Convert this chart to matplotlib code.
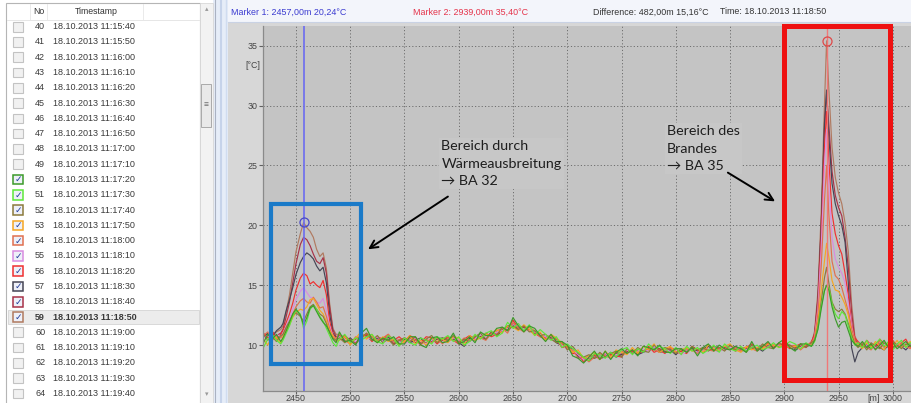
import numpy as np
import matplotlib
matplotlib.use("Agg")
import matplotlib.pyplot as plt
from matplotlib.patches import Rectangle
from matplotlib.lines import Line2D
from matplotlib import transforms

plt.rcParams['font.family'] = ['Liberation Sans', 'DejaVu Sans']

# ---------------- data ----------------
dist = np.concatenate([
    [2420, 2424, 2428, 2432, 2436],
    [2438, 2441, 2444, 2447, 2450, 2454, 2457, 2460, 2463, 2466, 2469, 2472, 2475, 2478, 2481, 2484, 2487],
    np.arange(2490, 2926, 5),
    [2928, 2931, 2934, 2937, 2939, 2941, 2944, 2947, 2950, 2953, 2956, 2959, 2962, 2965],
    np.arange(2968, 3021, 4),
])

t50 = [10.2, 10.9, 10.5, 10.9, 10.3,
       10.6, 11.2, 11.9, 12.6, 13.0, 12.5, 11.7, 12.3, 13.1, 13.3, 12.8, 12.3, 11.9, 11.6, 11.1, 10.5, 10.2,
       11.1, 10.3, 10.4, 10.0, 11.0, 11.4, 10.5, 10.2, 10.6, 10.4,
       10.7, 10.1, 10.1, 10.7, 10.7, 10.0, 9.8, 10.6, 10.7, 10.2,
       10.3, 11.0, 10.1, 10.3, 10.7, 10.2, 11.1, 10.8, 10.8, 11.4,
       11.5, 11.2, 12.3, 11.6, 11.1, 11.6, 11.4, 10.8, 10.3, 10.9,
       10.3, 10.3, 10.0, 9.1, 8.9, 8.5, 9.0, 9.5, 8.8, 9.5,
       8.8, 9.4, 9.7, 9.3, 9.6, 9.1, 9.9, 9.8, 9.6, 10.0,
       9.4, 9.4, 9.7, 9.7, 9.4, 9.8, 9.1, 9.8, 10.1, 9.5,
       10.0, 9.7, 9.6, 9.9, 9.7, 9.4, 10.3, 9.5, 9.9, 10.3,
       9.7, 10.2, 10.5, 9.8, 9.5, 10.1, 10.1, 9.9,
       10.4, 11.3, 13.0, 14.5, 15.0, 14.6, 13.2, 12.2, 11.5, 11.9, 12.0, 11.2, 10.4, 10.1,
       9.9, 10.3, 9.8, 10.1, 9.6, 10.0, 10.4, 9.8, 10.2, 9.7, 10.0, 10.3, 9.9, 10.1]

t51 = [9.8, 10.5, 10.9, 10.4, 10.1,
       10.4, 11.0, 11.6, 12.4, 12.9, 12.6, 11.4, 12.0, 13.0, 13.3, 13.0, 12.4, 12.0, 11.4, 10.8, 10.2, 9.9,
       10.5, 10.9, 10.2, 10.6, 10.4, 10.7, 10.9, 10.3, 10.1, 10.8,
       10.5, 9.9, 10.6, 10.2, 10.0, 10.6, 10.4, 10.1, 10.7, 10.5,
       10.8, 10.3, 10.7, 10.0, 10.3, 10.9, 10.5, 11.0, 11.2, 10.7,
       11.0, 11.9, 11.4, 11.8, 11.2, 11.7, 10.8, 11.3, 10.9, 10.4,
       10.7, 9.8, 10.1, 9.7, 9.4, 9.0, 8.7, 9.3, 9.2, 8.9,
       9.4, 9.0, 9.6, 9.8, 9.2, 9.7, 9.4, 10.1, 9.6, 9.9,
       9.7, 9.3, 9.8, 9.2, 9.9, 9.5, 9.8, 9.3, 9.6, 10.0,
       9.4, 10.1, 9.7, 9.5, 9.9, 9.5, 9.8, 10.0, 9.6, 9.8,
       10.2, 9.8, 9.9, 10.3, 10.1, 9.7, 10.2, 9.9,
       10.3, 11.4, 13.2, 14.6, 15.0, 14.8, 13.5, 12.6, 12.2, 12.8, 12.5, 11.6, 10.6, 10.0,
       10.2, 9.8, 10.4, 9.7, 10.1, 10.5, 9.9, 10.3, 9.6, 10.1, 10.4, 9.8, 10.2, 9.9]

t52 = [10.9, 10.4, 10.7, 10.3, 10.8,
       10.9, 11.5, 12.0, 12.5, 12.7, 12.4, 12.0, 12.6, 13.2, 13.4, 13.0, 12.6, 12.4, 11.8, 11.0, 10.6, 10.4,
       10.6, 10.2, 10.5, 10.1, 10.6, 11.0, 10.4, 10.8, 10.2, 10.5,
       10.0, 10.4, 10.6, 10.3, 10.7, 10.1, 10.5, 10.8, 10.2, 10.6,
       10.4, 10.8, 10.2, 10.5, 10.3, 10.7, 11.0, 10.5, 11.1, 10.8,
       11.5, 11.2, 11.6, 11.3, 11.6, 11.1, 11.2, 10.8, 10.9, 10.5,
       10.2, 10.3, 9.6, 9.9, 9.3, 9.0, 9.2, 8.9, 9.4, 9.0,
       9.3, 9.5, 9.0, 9.7, 9.3, 9.8, 9.5, 9.4, 10.0, 9.5,
       9.8, 9.6, 9.3, 9.7, 9.4, 9.9, 9.6, 9.8, 9.5, 9.9,
       9.8, 9.5, 10.0, 9.6, 9.8, 9.4, 10.0, 9.6, 10.1, 9.8,
       9.7, 10.2, 9.9, 10.0, 9.7, 10.1, 9.8, 10.2,
       10.4, 11.6, 13.6, 15.6, 16.5, 15.2, 13.6, 13.0, 12.8, 13.0, 12.6, 11.8, 10.9, 10.1,
       9.8, 10.1, 9.6, 10.2, 9.9, 9.7, 10.2, 9.9, 10.3, 10.0, 9.7, 10.1, 10.0, 9.8]

t53 = [10.5, 10.0, 10.8, 10.6, 10.2,
       10.7, 11.2, 11.7, 12.3, 12.7, 13.0, 12.9, 13.2, 13.8, 13.9, 13.4, 12.9, 12.6, 12.0, 11.2, 10.8, 10.3,
       10.4, 10.7, 10.0, 10.6, 11.1, 10.5, 10.9, 10.2, 10.7, 10.3,
       10.5, 10.0, 10.3, 10.8, 10.1, 10.4, 10.0, 10.6, 10.3, 10.5,
       10.2, 10.7, 10.6, 10.0, 10.8, 10.4, 10.6, 10.9, 10.8, 11.3,
       11.0, 11.6, 11.5, 11.2, 11.7, 11.3, 10.8, 11.1, 10.4, 10.9,
       10.6, 10.2, 9.9, 9.4, 9.6, 8.9, 9.1, 9.4, 8.8, 9.5,
       9.0, 9.6, 9.4, 9.2, 9.8, 9.3, 9.9, 9.6, 10.1, 9.4,
       9.7, 9.9, 9.4, 9.6, 9.8, 9.5, 9.7, 9.4, 10.0, 9.7,
       9.5, 9.9, 10.1, 9.6, 9.4, 9.9, 9.6, 9.8, 9.7, 10.1,
       10.0, 9.8, 10.3, 9.8, 9.9, 9.7, 10.1, 10.0,
       10.5, 12.0, 14.5, 17.0, 18.5, 17.4, 15.4, 14.6, 14.5, 14.0, 13.4, 12.5, 11.0, 10.2,
       10.1, 9.7, 10.2, 9.8, 10.3, 9.9, 9.6, 10.2, 9.9, 10.4, 9.8, 10.0, 10.3, 9.9]

t54 = [10.8, 11.1, 10.4, 10.7, 10.6,
       10.9, 11.4, 11.9, 12.6, 13.2, 13.7, 13.9, 13.6, 13.5, 14.0, 13.6, 13.1, 13.2, 12.4, 11.4, 10.7, 10.6,
       10.9, 10.4, 10.1, 10.7, 10.5, 11.0, 10.7, 10.4, 10.6, 10.9,
       10.2, 10.5, 10.2, 10.6, 10.4, 10.0, 10.5, 10.2, 10.6, 10.1,
       10.6, 10.4, 10.2, 10.6, 10.4, 10.8, 10.6, 10.4, 11.0, 11.2,
       11.4, 11.0, 11.9, 11.4, 11.1, 11.5, 11.2, 10.7, 10.5, 10.8,
       10.3, 10.1, 9.7, 9.6, 8.9, 9.0, 8.6, 9.0, 9.3, 9.1,
       8.9, 9.4, 9.5, 9.3, 9.6, 9.4, 9.5, 9.8, 9.6, 9.4,
       9.6, 9.8, 9.4, 9.3, 9.7, 9.6, 9.3, 9.8, 9.6, 9.5,
       9.7, 9.9, 9.6, 9.8, 9.5, 9.8, 9.7, 9.5, 9.9, 9.8,
       10.0, 10.1, 9.7, 9.9, 10.0, 9.6, 10.0, 10.2,
       10.6, 12.6, 16.5, 22.0, 25.0, 21.0, 17.0, 15.8, 15.5, 14.8, 13.8, 12.8, 11.4, 10.4,
       9.9, 10.2, 9.8, 9.6, 10.1, 10.3, 9.8, 10.0, 9.7, 9.9, 10.2, 9.9, 9.7, 10.1]

t55 = [10.6, 10.8, 10.5, 10.9, 10.7,
       11.0, 11.6, 12.2, 13.0, 13.8, 14.5, 14.8, 14.4, 14.0, 13.9, 13.6, 13.5, 13.9, 12.9, 11.6, 10.8, 10.4,
       10.7, 10.5, 10.2, 10.3, 10.9, 10.6, 10.5, 10.7, 10.3, 10.4,
       10.6, 10.3, 10.1, 10.4, 10.6, 10.3, 10.1, 10.4, 10.6, 10.2,
       10.3, 10.6, 10.5, 10.3, 10.4, 10.5, 10.9, 10.6, 10.9, 11.1,
       11.2, 11.4, 11.7, 11.6, 11.3, 11.2, 11.1, 10.9, 10.7, 10.5,
       10.4, 10.0, 9.7, 9.6, 9.2, 8.8, 9.0, 9.0, 9.1, 9.3,
       9.0, 9.2, 9.4, 9.6, 9.3, 9.5, 9.7, 9.5, 9.8, 9.5,
       9.6, 9.5, 9.6, 9.2, 9.5, 9.6, 9.4, 9.5, 9.7, 9.8,
       9.5, 9.7, 9.8, 9.8, 9.5, 9.6, 9.9, 9.8, 9.7, 9.9,
       10.0, 10.0, 10.0, 9.9, 9.7, 9.8, 10.1, 10.0,
       10.7, 13.0, 18.0, 25.0, 28.0, 23.5, 19.0, 17.2, 16.5, 16.0, 15.2, 13.5, 11.6, 10.3,
       10.0, 9.8, 10.0, 10.2, 9.8, 9.9, 10.1, 9.8, 10.0, 10.1, 9.8, 9.9, 10.1, 10.0]

t56 = [11.0, 10.6, 11.2, 10.5, 10.9,
       11.2, 11.9, 12.6, 13.5, 14.6, 15.6, 16.0, 15.8, 15.1, 15.3, 15.0, 14.8, 15.4, 14.2, 12.0, 10.9, 10.5,
       10.6, 10.8, 10.4, 10.2, 10.6, 10.9, 10.3, 10.7, 10.5, 10.9,
       10.4, 10.7, 10.3, 10.8, 10.5, 10.2, 10.7, 10.6, 10.1, 10.5,
       10.7, 10.4, 10.1, 10.5, 10.8, 10.5, 10.6, 11.0, 10.7, 10.9,
       11.2, 11.3, 12.1, 11.4, 11.6, 11.2, 11.0, 10.7, 10.6, 10.5,
       10.5, 9.8, 9.9, 9.3, 9.3, 8.6, 8.9, 9.2, 8.8, 9.3,
       9.2, 9.1, 9.0, 9.6, 9.5, 9.3, 9.5, 9.9, 9.4, 9.6,
       9.3, 9.8, 9.6, 9.5, 9.3, 9.9, 9.6, 9.4, 9.7, 9.6,
       9.8, 9.6, 10.0, 9.5, 9.7, 9.8, 10.1, 9.6, 9.7, 10.2,
       9.8, 10.0, 10.1, 9.7, 9.9, 10.1, 9.8, 10.3,
       10.9, 13.5, 19.0, 26.5, 29.5, 25.5, 21.0, 19.3, 18.3, 17.6, 16.0, 14.2, 11.8, 10.6,
       10.3, 9.9, 10.4, 10.0, 9.7, 10.5, 10.1, 9.8, 10.4, 9.9, 10.2, 10.5, 9.8, 10.2]

t57 = [10.7, 11.0, 10.6, 11.2, 11.5,
       11.8, 12.9, 13.8, 14.8, 15.9, 16.9, 17.4, 17.7, 17.5, 17.2, 16.6, 16.2, 16.5, 15.2, 12.6, 11.0, 10.6,
       10.7, 10.3, 10.6, 10.2, 10.9, 10.7, 10.4, 10.6, 10.3, 10.7,
       10.2, 10.3, 10.5, 10.2, 10.4, 10.6, 10.0, 10.4, 10.5, 10.6,
       10.4, 10.5, 10.2, 9.9, 10.6, 10.4, 10.7, 10.5, 11.1, 10.8,
       11.2, 11.6, 11.7, 11.4, 11.6, 11.3, 10.9, 11.0, 10.5, 10.6,
       10.2, 10.0, 9.9, 9.7, 9.0, 8.8, 8.7, 9.1, 8.9, 9.0,
       9.4, 9.0, 9.2, 9.4, 9.6, 9.2, 9.4, 9.6, 9.8, 9.4,
       9.5, 9.6, 9.2, 9.6, 9.4, 9.7, 9.5, 9.7, 9.9, 9.6,
       9.5, 9.8, 9.7, 9.9, 9.5, 9.6, 9.7, 9.8, 9.5, 9.9,
       10.0, 9.9, 10.1, 9.9, 9.6, 9.8, 9.9, 10.0,
       10.8, 13.8, 19.8, 28.5, 31.3, 27.5, 23.5, 21.8, 20.8, 20.0, 18.6, 15.2, 9.8, 8.6,
       9.4, 9.8, 10.0, 9.7, 10.1, 9.8, 9.6, 10.0, 9.8, 10.1, 9.9, 9.6, 10.0, 9.8]

t58 = [10.9, 10.7, 10.9, 10.8, 11.0,
       11.3, 12.4, 13.6, 15.2, 16.8, 18.4, 19.0, 18.8, 18.3, 17.6, 17.0, 16.8, 17.3, 16.0, 13.2, 11.3, 10.7,
       10.8, 10.6, 10.3, 10.5, 10.7, 10.8, 10.5, 10.4, 10.5, 10.5,
       10.1, 10.3, 10.6, 10.4, 10.2, 10.3, 10.4, 10.3, 10.5, 10.4,
       10.6, 10.6, 10.3, 10.4, 10.6, 10.7, 10.9, 10.5, 11.0, 10.9,
       11.3, 11.5, 11.6, 11.3, 11.5, 11.2, 11.0, 10.9, 10.7, 10.6,
       10.3, 10.1, 9.7, 9.6, 9.1, 8.9, 9.0, 8.9, 9.1, 9.3,
       9.2, 9.3, 9.2, 9.4, 9.5, 9.6, 9.5, 9.7, 9.7, 9.7,
       9.4, 9.6, 9.5, 9.5, 9.5, 9.8, 9.6, 9.5, 9.9, 9.8,
       9.7, 9.7, 9.8, 9.6, 9.7, 9.7, 9.8, 9.8, 9.9, 10.0,
       9.8, 10.1, 10.0, 10.0, 9.8, 9.9, 10.0, 10.1,
       11.0, 14.0, 20.0, 28.0, 31.0, 28.5, 24.5, 22.5, 21.5, 20.8, 19.0, 16.5, 12.8, 10.5,
       10.0, 9.9, 10.1, 9.8, 10.0, 10.1, 9.9, 9.8, 10.1, 10.0, 9.8, 10.0, 10.1, 9.9]

t59 = [10.8, 10.9, 11.0, 11.1, 11.3,
       11.6, 12.8, 14.2, 16.0, 17.8, 19.3, 20.24, 19.8, 19.5, 19.0, 18.0, 17.4, 17.7, 16.4, 13.5, 11.4, 10.9,
       10.9, 10.6, 10.4, 10.5, 10.8, 10.9, 10.7, 10.4, 10.5, 10.7,
       10.4, 10.1, 10.5, 10.6, 10.2, 10.3, 10.2, 10.6, 10.5, 10.2,
       10.4, 10.7, 10.5, 10.2, 10.5, 10.6, 10.7, 10.8, 10.9, 11.1,
       11.2, 11.4, 11.8, 11.6, 11.3, 11.5, 11.1, 10.9, 10.7, 10.8,
       10.5, 10.1, 9.8, 9.5, 9.2, 8.9, 9.0, 9.2, 9.1, 9.2,
       9.1, 9.4, 9.3, 9.5, 9.3, 9.6, 9.5, 9.8, 9.7, 9.7,
       9.5, 9.7, 9.6, 9.5, 9.7, 9.6, 9.6, 9.7, 9.7, 9.8,
       9.7, 9.9, 9.8, 9.7, 9.7, 9.8, 9.8, 9.7, 9.8, 10.0,
       10.0, 10.0, 10.2, 9.9, 9.9, 9.9, 10.0, 10.1,
       11.2, 14.5, 21.0, 30.0, 35.40, 31.5, 26.5, 24.0, 22.7, 21.8, 20.2, 17.8, 13.5, 10.8,
       10.1, 10.0, 9.8, 10.0, 10.1, 9.9, 10.0, 10.1, 9.9, 10.0, 10.1, 9.9, 10.0, 10.0]

series_nos = [50, 51, 52, 53, 54, 55, 56, 57, 58, 59]
series_vals = [t50, t51, t52, t53, t54, t55, t56, t57, t58, t59]
series_cols = ['#3c9a2a', '#5ee83a', '#8c7a3c', '#f5a623', '#e07050',
               '#d98ce0', '#f03030', '#454555', '#a83248', '#b07a60']

row_nos = list(range(40, 65))
row_times = ["18.10.2013 11:15:40", "18.10.2013 11:15:50", "18.10.2013 11:16:00",
             "18.10.2013 11:16:10", "18.10.2013 11:16:20", "18.10.2013 11:16:30",
             "18.10.2013 11:16:40", "18.10.2013 11:16:50", "18.10.2013 11:17:00",
             "18.10.2013 11:17:10", "18.10.2013 11:17:20", "18.10.2013 11:17:30",
             "18.10.2013 11:17:40", "18.10.2013 11:17:50", "18.10.2013 11:18:00",
             "18.10.2013 11:18:10", "18.10.2013 11:18:20", "18.10.2013 11:18:30",
             "18.10.2013 11:18:40", "18.10.2013 11:18:50", "18.10.2013 11:19:00",
             "18.10.2013 11:19:10", "18.10.2013 11:19:20", "18.10.2013 11:19:30",
             "18.10.2013 11:19:40"]
selected_no = 59

marker1 = (2457, 20.24)
marker2 = (2939, 35.40)
hdr_m1 = "Marker 1: 2457,00m 20,24°C"
hdr_m2 = "Marker 2: 2939,00m 35,40°C"
hdr_diff = "Difference: 482,00m 15,16°C"
hdr_time = "Time: 18.10.2013 11:18:50"

xticks = [2450, 2500, 2550, 2600, 2650, 2700, 2750, 2800, 2850, 2900, 2950, 3000]
yticks = [10, 15, 20, 25, 30, 35]

# ---------------- figure ----------------
W, H = 912, 403
fig = plt.figure(figsize=(W / 100, H / 100), dpi=100)
fig.patch.set_facecolor('white')


def box(x0, y0, x1, y1, z=-10, **kw):
    r = Rectangle((x0 / W, 1 - y1 / H), (x1 - x0) / W, (y1 - y0) / H,
                  transform=fig.transFigure, zorder=z, **kw)
    fig.add_artist(r)
    return r


def hline(x0, x1, y, z=-9, **kw):
    fig.add_artist(Line2D([x0 / W, x1 / W], [1 - y / H, 1 - y / H],
                          transform=fig.transFigure, zorder=z, **kw))


def vline(x, y0, y1, z=-9, **kw):
    fig.add_artist(Line2D([x / W, x / W], [1 - y0 / H, 1 - y1 / H],
                          transform=fig.transFigure, zorder=z, **kw))


def ftext(x, y, s, **kw):
    fig.text(x / W, 1 - y / H, s, **kw)


# chart panel backgrounds
box(228, 0, W, H, fc='#d7d7d7', ec='none')
box(228, 0, W, 22, fc='#f3f5fb', ec='none')
hline(228, W, 22, color='#c9d2e4', lw=0.8)
# splitter
box(213, 0, 228, H, fc='#e6edf8', ec='none')
vline(215, 0, H, color='#aab2c2', lw=0.8)
vline(221, 0, H, color='#c6d3ea', lw=1.5)
vline(226, 0, H, color='#d0dcf0', lw=1.0)

# list panel
box(0, 0, 213, H, fc='white', ec='none')
box(6, 3, 200, H + 2, fc='white', ec='#b5b5b5', lw=0.8)
hline(7, 199, 20, color='#e2e2e2', lw=0.6)
for xs in (30, 47, 143):
    vline(xs, 4, 20, color='#e6e6e6', lw=0.6)
ftext(39, 12, "No", fontsize=6.3, color='#333333', ha='center', va='center')
ftext(96, 12, "Timestamp", fontsize=6.3, color='#333333', ha='center', va='center')

# scrollbar
box(200, 3, 213, H, fc='#f2f2f2', ec='#d8d8d8', lw=0.6)
box(201.5, 84, 211.5, 127, fc='#e9e9e9', ec='#a9a9a9', lw=0.7, z=-8)
ftext(206.5, 105.5, "≡", fontsize=6, color='#666666', ha='center', va='center')
ftext(206.5, 10, "▴", fontsize=5, color='#999999', ha='center', va='center')
ftext(206.5, 395, "▾", fontsize=5, color='#999999', ha='center', va='center')

col_for = dict(zip(series_nos, series_cols))
row0, dy = 26.7, 15.28
for i, (no, ts) in enumerate(zip(row_nos, row_times)):
    yc = row0 + i * dy
    bold = 'bold' if no == selected_no else 'normal'
    if no == selected_no:
        box(8, yc - 7.3, 199, yc + 7.3, fc='#ececec', ec='#d4d4d4', lw=0.6, z=-8)
    if no in col_for:
        box(13, yc - 4.8, 23, yc + 4.8, fc='#eef0f8', ec=col_for[no], lw=1.1, z=-7)
        ftext(18.2, yc + 0.3, "✓", fontsize=6.5, color='#1f3a9a', ha='center', va='center',
              family='DejaVu Sans', weight='bold')
    else:
        box(13, yc - 4.8, 23, yc + 4.8, fc='#f1f1f1', ec='#c3c3c3', lw=0.8, z=-7)
    ftext(35, yc, str(no), fontsize=6.5, color='#3a3a3a', ha='left', va='center', weight=bold)
    ftext(53, yc, ts, fontsize=6.5, color='#3a3a3a', ha='left', va='center', weight=bold)

# header texts
ftext(231, 12, hdr_m1, fontsize=6.4, color='#3a3ad0', va='center')
ftext(413, 12, hdr_m2, fontsize=6.4, color='#e5334a', va='center')
ftext(593, 12, hdr_diff, fontsize=6.4, color='#333333', va='center')
ftext(720, 12, hdr_time, fontsize=6.4, color='#333333', va='center')

# ---------------- main axes ----------------
ax_l, ax_t, ax_b = 263, 26, 391
ax = fig.add_axes([ax_l / W, 1 - ax_b / H, (W - ax_l) / W, (ax_b - ax_t) / H])
ax.set_facecolor('#c4c4c4')
ax.set_xlim(2419.6, 3017.7)
ax.set_ylim(6.17, 36.64)
ax.set_xticks(xticks)
ax.set_yticks(yticks)
ax.tick_params(labelsize=6.4, labelcolor='#444444', color='#606060', width=0.8)
ax.tick_params(axis='x', length=2, pad=0.5)
ax.tick_params(axis='y', length=3, pad=1)
ax.grid(True, color='#6e6e6e', linestyle=(0, (1.2, 2.2)), linewidth=0.7)
ax.set_axisbelow(True)
for s in ('top', 'right'):
    ax.spines[s].set_visible(False)
for s in ('left', 'bottom'):
    ax.spines[s].set_color('#8a8a8a')
    ax.spines[s].set_linewidth(0.9)

for vals, col in zip(series_vals[::-1], series_cols[::-1]):
    ax.plot(dist, vals, color=col, lw=0.85, zorder=2)

ax.axvline(marker1[0], color='#6c6cf0', lw=1.2, zorder=3)
ax.axvline(marker2[0], color='#f07878', lw=1.0, zorder=3)
ax.plot(*marker1, 'o', mfc='none', mec='#4848c8', ms=6.5, mew=0.9, zorder=4)
ax.plot(*marker2, 'o', mfc='none', mec='#e04848', ms=6.5, mew=0.9, zorder=4)

ax.text(-0.005, 0.893, "[°C]", transform=ax.transAxes, ha='right', va='center',
        fontsize=6.3, color='#444444')
ax.text(2982, -0.008, "[m]", transform=transforms.blended_transform_factory(ax.transData, ax.transAxes),
        ha='center', va='top', fontsize=6.4, color='#444444')

# overlays
ax.add_patch(Rectangle((2427, 8.4), 83, 13.4, fill=False, ec='#1a7ac8', lw=3.0, zorder=6,
                       clip_on=False))
ax.add_patch(Rectangle((2900, 7.1), 97.5, 29.5, fill=False, ec='#ee1111', lw=3.6, zorder=6,
                       clip_on=False))

afont = ['Lato', 'DejaVu Sans']
ax.text(2584, 27.1, "Bereich durch\nWärmeausbreitung\n→ BA 32", fontsize=10.3, family=afont,
        color='#1e1e1e', va='top', ha='left', linespacing=1.55, zorder=5,
        bbox=dict(fc='#c7c7c7', ec='none', pad=1.5))
ax.text(2792, 28.35, "Bereich des\nBrandes\n→ BA 35", fontsize=10.3, family=afont,
        color='#1e1e1e', va='top', ha='left', linespacing=1.55, zorder=5,
        bbox=dict(fc='#c7c7c7', ec='none', pad=1.5))
ax.annotate('', xy=(2516.4, 18.0), xytext=(2590, 22.4),
            arrowprops=dict(arrowstyle='->', color='black', lw=1.4, mutation_scale=14,
                            shrinkA=0, shrinkB=0), zorder=6)
ax.annotate('', xy=(2891.5, 22.0), xytext=(2848, 24.4),
            arrowprops=dict(arrowstyle='->', color='black', lw=1.4, mutation_scale=14,
                            shrinkA=0, shrinkB=0), zorder=6)

fig.savefig("out.png", dpi=100)
